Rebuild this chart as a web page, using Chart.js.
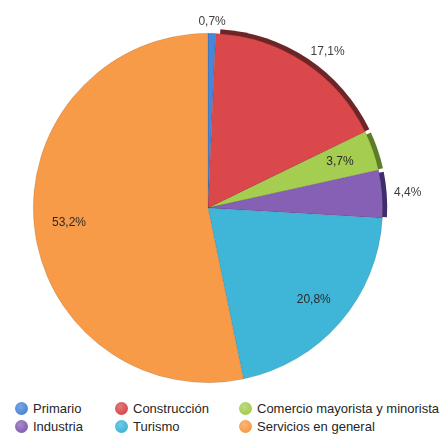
<!DOCTYPE html>
<html>
<head>
<meta charset="utf-8">
<script src="https://cdn.jsdelivr.net/npm/chart.js@4"></script>
<style>
    html, body { margin: 0; padding: 0; background: #ffffff; }
    #wrap { position: relative; width: 443px; height: 434px; overflow: hidden; }
    #pie { position: absolute; left: 0; top: 0; }
    .legend-item {
        position: absolute;
        font-family: "Liberation Sans", sans-serif;
        font-size: 13px;
        color: #262626;
        white-space: nowrap;
        line-height: 16px;
    }
    .legend-item i {
        position: absolute;
        left: -18px;
        top: 1px;
        width: 13px;
        height: 13px;
        border-radius: 50%;
    }
</style>
</head>
<body>
<div id="wrap">
    <canvas id="pie" width="443" height="395"></canvas>
    <div id="legend"></div>
</div>
<script>
    const categories = ["Primario", "Construcción", "Comercio mayorista y minorista", "Industria", "Turismo", "Servicios en general"];
    const shares = [0.7, 17.1, 3.7, 4.4, 20.8, 53.2];
    const sliceColors = ["#4a86d8", "#da484b", "#a5cd50", "#8660b4", "#3fb6d8", "#f89b48"];
    const edgeColors = [null, "#6e2528", "#5d7d26", "#3f2d6c", null, null];
    const outsideLabels = [0, 1, 3];

    // legend: 3 columns, 2 rows, like the original
    const legendSlots = [
        [33, 401], [133, 401], [257, 401],
        [33, 419], [133, 419], [257, 419]
    ];
    const legend = document.getElementById("legend");
    categories.forEach((name, idx) => {
        const el = document.createElement("div");
        el.className = "legend-item";
        el.style.left = legendSlots[idx][0] + "px";
        el.style.top = legendSlots[idx][1] + "px";
        const dot = document.createElement("i");
        dot.style.background = `radial-gradient(circle at 40% 35%, ${sliceColors[idx]}bb, ${sliceColors[idx]} 70%)`;
        el.appendChild(dot);
        el.appendChild(document.createTextNode(name));
        legend.appendChild(el);
    });

    const edgeShadow = {
        id: "edgeShadow",
        beforeDatasetsDraw(chart) {
            const { ctx } = chart;
            const arcs = chart.getDatasetMeta(0).data;
            arcs.forEach((arc, i) => {
                if (!edgeColors[i]) {
                    return;
                }
                const { x, y, outerRadius, startAngle, endAngle } = arc.getProps(["x", "y", "outerRadius", "startAngle", "endAngle"], true);
                ctx.save();
                ctx.beginPath();
                ctx.moveTo(x, y);
                ctx.arc(x + 1, y - 1, outerRadius + 3.5, startAngle + 0.02, endAngle);
                ctx.closePath();
                ctx.fillStyle = edgeColors[i];
                ctx.fill();
                ctx.restore();
            });
        }
    };

    const sliceLabels = {
        id: "sliceLabels",
        afterDatasetsDraw(chart) {
            const { ctx } = chart;
            const arcs = chart.getDatasetMeta(0).data;
            ctx.save();
            ctx.font = "12px 'Liberation Sans', sans-serif";
            ctx.textBaseline = "middle";
            arcs.forEach((arc, i) => {
                const { x, y, outerRadius, startAngle, endAngle } = arc.getProps(["x", "y", "outerRadius", "startAngle", "endAngle"], true);
                const mid = (startAngle + endAngle) / 2;
                const outside = outsideLabels.includes(i);
                const dist = outside ? outerRadius + 12 : outerRadius * 0.8;
                const cos = Math.cos(mid);
                ctx.textAlign = outside && cos > 0.5 ? "left" : "center";
                ctx.fillStyle = outside ? "#404040" : "#2a2a2a";
                const text = shares[i].toFixed(1).replace(".", ",") + "%";
                ctx.fillText(text, x + cos * dist, y + Math.sin(mid) * dist);
            });
            ctx.restore();
        }
    };

    new Chart(document.getElementById("pie"), {
        type: "pie",
        data: {
            labels: categories,
            datasets: [
                {
                    data: shares,
                    backgroundColor: sliceColors,
                    borderColor: "rgba(0, 0, 0, 0.18)",
                    borderWidth: 0.6
                }
            ]
        },
        options: {
            responsive: false,
            animation: false,
            layout: {
                padding: { top: 33, bottom: 12, left: 33, right: 60 }
            },
            plugins: {
                legend: { display: false },
                tooltip: { enabled: false }
            }
        },
        plugins: [edgeShadow, sliceLabels]
    });
</script>
</body>
</html>
